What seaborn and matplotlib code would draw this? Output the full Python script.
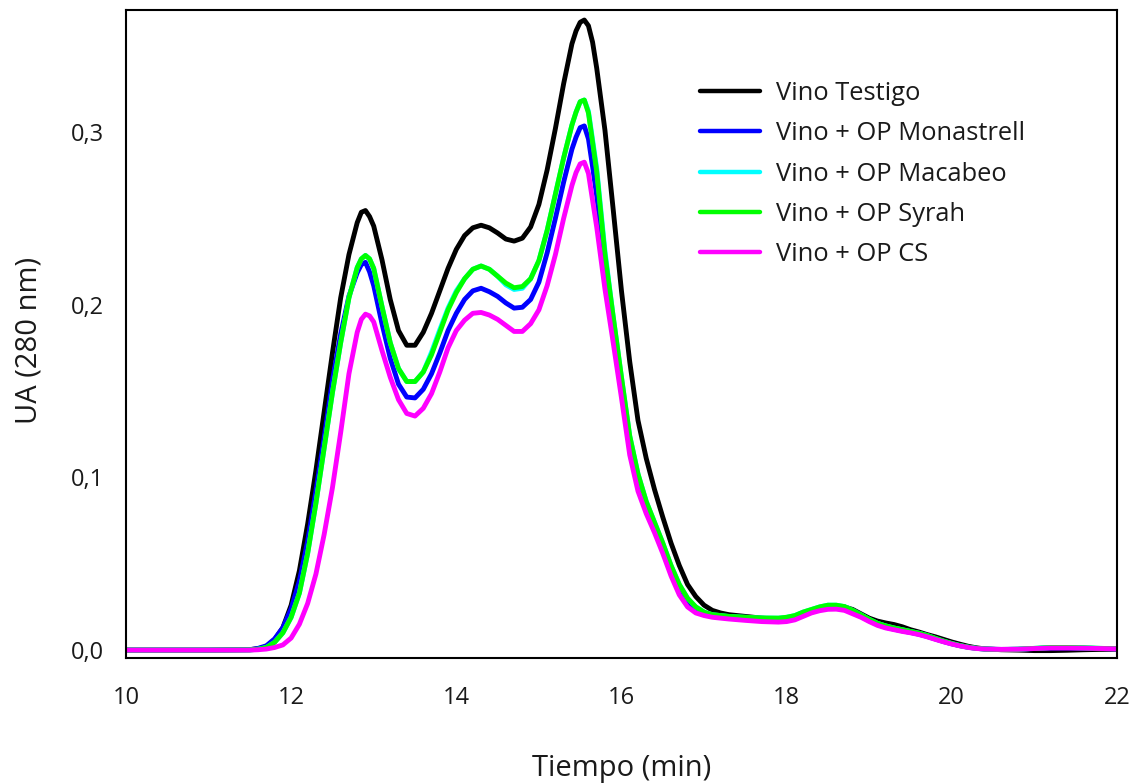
import numpy as np
import pandas as pd
import matplotlib
matplotlib.use("Agg")
import matplotlib.pyplot as plt
import seaborn as sns

# ---------------- data ----------------
tiempo = [10, 10.5, 11, 11.5,
          11.6, 11.7, 11.8, 11.9, 12.0, 12.1, 12.2, 12.3, 12.4, 12.5, 12.6, 12.7, 12.8,
          12.85, 12.9, 12.95, 13.0,
          13.1, 13.2, 13.3, 13.4, 13.5, 13.6, 13.7, 13.8, 13.9, 14.0,
          14.1, 14.2, 14.3, 14.4, 14.5, 14.6, 14.7, 14.8, 14.9, 15.0,
          15.1, 15.2, 15.3, 15.4,
          15.45, 15.5, 15.55, 15.6, 15.65,
          15.7, 15.8, 15.9, 16.0, 16.1, 16.2, 16.3, 16.4, 16.5, 16.6, 16.7, 16.8, 16.9, 17.0,
          17.1, 17.2, 17.3,
          17.5, 17.7, 17.9,
          18.0, 18.1, 18.2, 18.3, 18.4, 18.5, 18.6, 18.7, 18.8, 18.9, 19.0, 19.1, 19.2, 19.3, 19.4,
          19.5, 19.6, 19.7, 19.8, 19.9, 20.0, 20.1, 20.2, 20.3, 20.4,
          20.6, 20.8, 21.0, 21.2, 21.4, 21.6, 21.8, 22.0]

testigo = [0, 0, 0, 0.0003,
           0.0008, 0.002, 0.006, 0.013, 0.026, 0.046, 0.073, 0.104, 0.138, 0.172, 0.204, 0.229, 0.2475,
           0.2535, 0.2545, 0.251, 0.2455,
           0.226, 0.203, 0.185, 0.1765, 0.1765, 0.184, 0.195, 0.208, 0.221, 0.232,
           0.240, 0.2445, 0.246, 0.2445, 0.2415, 0.238, 0.2368, 0.2385, 0.245, 0.258,
           0.278, 0.302, 0.328, 0.351,
           0.3585, 0.3635, 0.3648, 0.3615, 0.352,
           0.337, 0.301, 0.255, 0.208, 0.167, 0.133, 0.111, 0.093, 0.077, 0.062, 0.049, 0.038, 0.031, 0.026,
           0.023, 0.0215, 0.0205,
           0.0195, 0.0185, 0.0178,
           0.018, 0.019, 0.0205, 0.022, 0.0235, 0.0245, 0.025, 0.025, 0.0235, 0.021, 0.0185, 0.0168, 0.0157, 0.0148, 0.0135,
           0.0118, 0.0105, 0.009, 0.0077, 0.0062, 0.0047, 0.0034, 0.0022, 0.0013, 0.0007,
           0.0002, 0.0, -0.0003, -0.0003, -0.0001, 0.0002, 0.0004, 0.0005]

monastrell = [0, 0, 0, 0.0002,
              0.001, 0.0025, 0.0065, 0.013, 0.024, 0.040, 0.063, 0.092, 0.123, 0.156, 0.183, 0.205, 0.2185,
              0.2232, 0.2245, 0.219, 0.211,
              0.189, 0.169, 0.154, 0.1465, 0.146, 0.151, 0.160, 0.172, 0.185, 0.195,
              0.203, 0.208, 0.2095, 0.2075, 0.2048, 0.201, 0.198, 0.1985, 0.203, 0.213,
              0.230, 0.250, 0.271, 0.290,
              0.297, 0.3025, 0.3035, 0.296, 0.280,
              0.263, 0.223, 0.189, 0.155, 0.120, 0.099, 0.084, 0.072, 0.060, 0.047, 0.036, 0.028, 0.0235, 0.0208,
              0.0195, 0.019, 0.0185,
              0.0178, 0.0172, 0.0168,
              0.0172, 0.0182, 0.020, 0.022, 0.0235, 0.0243, 0.0244, 0.0237, 0.0217, 0.0195, 0.017, 0.0148, 0.0132, 0.0121, 0.0111,
              0.0102, 0.0092, 0.0079, 0.0064, 0.0049, 0.0036, 0.0025, 0.0016, 0.001, 0.0006,
              0.0004, 0.0005, 0.0009, 0.0012, 0.0012, 0.0011, 0.0009, 0.0007]

macabeo = [0, 0, 0, 0.0001,
           0.0005, 0.0015, 0.0045, 0.010, 0.019, 0.033, 0.056, 0.085, 0.117, 0.149, 0.178, 0.204, 0.2215,
           0.2265, 0.2285, 0.2265, 0.221,
           0.199, 0.178, 0.163, 0.1555, 0.1555, 0.161, 0.1725, 0.1855, 0.198, 0.208,
           0.215, 0.2205, 0.2224, 0.2205, 0.2165, 0.2115, 0.2088, 0.2095, 0.215, 0.2255,
           0.243, 0.264, 0.285, 0.304,
           0.3115, 0.3175, 0.3185, 0.312, 0.2955,
           0.279, 0.231, 0.193, 0.158, 0.124, 0.102, 0.086, 0.074, 0.062, 0.049, 0.038, 0.030, 0.025, 0.022,
           0.0205, 0.020, 0.0195,
           0.019, 0.0186, 0.0185,
           0.019, 0.020, 0.022, 0.0235, 0.025, 0.026, 0.026, 0.0252, 0.023, 0.0205, 0.0178, 0.0155, 0.014, 0.0128, 0.0118,
           0.0108, 0.0098, 0.0085, 0.0068, 0.0052, 0.0038, 0.0026, 0.0017, 0.001, 0.0006,
           0.0003, 0.0005, 0.001, 0.0015, 0.0015, 0.0013, 0.001, 0.0008]

syrah = [0, 0, 0, 0.0001,
         0.0005, 0.0015, 0.0045, 0.010, 0.019, 0.033, 0.056, 0.085, 0.117, 0.149, 0.178, 0.204, 0.2215,
         0.2265, 0.2285, 0.2265, 0.221,
         0.199, 0.178, 0.163, 0.1555, 0.1555, 0.161, 0.171, 0.184, 0.197, 0.207,
         0.215, 0.2205, 0.2224, 0.2205, 0.2165, 0.2125, 0.2098, 0.2105, 0.215, 0.2255,
         0.243, 0.264, 0.285, 0.304,
         0.3115, 0.3175, 0.3185, 0.311, 0.294,
         0.277, 0.229, 0.193, 0.158, 0.124, 0.102, 0.086, 0.074, 0.062, 0.049, 0.038, 0.030, 0.025, 0.022,
         0.0205, 0.020, 0.0195,
         0.019, 0.0186, 0.0185,
         0.019, 0.020, 0.022, 0.0235, 0.025, 0.026, 0.026, 0.0252, 0.023, 0.0205, 0.0178, 0.0155, 0.014, 0.0128, 0.0118,
         0.0108, 0.0098, 0.0085, 0.0068, 0.0052, 0.0038, 0.0026, 0.0017, 0.001, 0.0006,
         0.0003, 0.0005, 0.001, 0.0015, 0.0015, 0.0013, 0.001, 0.0008]

cs = [0, 0, 0, 0,
      0.0002, 0.0006, 0.0015, 0.003, 0.007, 0.015, 0.027, 0.044, 0.067, 0.094, 0.126, 0.160, 0.184,
      0.1915, 0.1945, 0.1935, 0.190,
      0.1735, 0.158, 0.145, 0.137, 0.1355, 0.140, 0.1485, 0.161, 0.175, 0.185,
      0.191, 0.195, 0.1955, 0.194, 0.1915, 0.188, 0.1845, 0.1845, 0.189, 0.197,
      0.211, 0.229, 0.250, 0.269,
      0.2765, 0.2815, 0.2825, 0.276, 0.2605,
      0.245, 0.209, 0.178, 0.146, 0.113, 0.092, 0.079, 0.068, 0.056, 0.043, 0.032, 0.025, 0.0215, 0.020,
      0.019, 0.0185, 0.018,
      0.0172, 0.0165, 0.0162,
      0.0165, 0.0175, 0.0195, 0.0215, 0.0228, 0.0236, 0.0237, 0.023, 0.021, 0.019, 0.0165, 0.0143, 0.0128, 0.0118, 0.0108,
      0.010, 0.009, 0.0077, 0.0062, 0.0048, 0.0035, 0.0024, 0.0015, 0.0009, 0.0006,
      0.0004, 0.0005, 0.0009, 0.0012, 0.0012, 0.0011, 0.0009, 0.0007]

series_names = ["Vino Testigo", "Vino + OP Monastrell", "Vino + OP Macabeo",
                "Vino + OP Syrah", "Vino + OP CS"]
series_values = [testigo, monastrell, macabeo, syrah, cs]
series_colors = ["#000000", "#0000ff", "#00ffff", "#00ff00", "#ff00ff"]

x_ticks = [10, 12, 14, 16, 18, 20, 22]
x_tick_labels = ["10", "12", "14", "16", "18", "20", "22"]
y_ticks = [0.0, 0.1, 0.2, 0.3]
y_tick_labels = ["0,0", "0,1", "0,2", "0,3"]

# ---------------- build frame ----------------
frames = []
for name, vals in zip(series_names, series_values):
    assert len(vals) == len(tiempo), name
    frames.append(pd.DataFrame({"Tiempo": tiempo, "UA": vals, "Serie": name}))
df = pd.concat(frames, ignore_index=True)

sns.set_theme(style="white")
plt.rcParams["font.family"] = ["Open Sans", "DejaVu Sans"]
plt.rcParams["text.color"] = "#1a1a1a"

fig = plt.figure(figsize=(11.4, 7.83), dpi=100)
ax = fig.add_axes([0.1105, 0.1596, 0.9798 - 0.1105, 0.9872 - 0.1596])

sns.lineplot(data=df, x="Tiempo", y="UA", hue="Serie", hue_order=series_names,
             palette=dict(zip(series_names, series_colors)), linewidth=3.5,
             sort=False, estimator=None, ax=ax, legend=True)
for ln in ax.get_lines():
    ln.set_solid_joinstyle("round")
    ln.set_solid_capstyle("round")

ax.set_xlim(10, 22)
ax.set_ylim(-0.0046, 0.3706)
ax.set_xticks(x_ticks)
ax.set_xticklabels(x_tick_labels)
ax.set_yticks(y_ticks)
ax.set_yticklabels(y_tick_labels)

for s in ax.spines.values():
    s.set_visible(True)
    s.set_color("black")
    s.set_linewidth(1.5)

ax.tick_params(axis="both", which="major", direction="out", length=6, width=1.5,
               color="black", labelsize=17, labelcolor="#1a1a1a")
ax.tick_params(axis="x", pad=14)
ax.tick_params(axis="y", pad=10)

ax.set_xlabel("Tiempo (min)", fontsize=21, labelpad=32, color="#1a1a1a")
ax.set_ylabel("UA (280 nm)", fontsize=21, color="#1a1a1a")
ax.yaxis.set_label_coords(-0.083, 0.49)

handles, labels = ax.get_legend_handles_labels()
leg = ax.legend(handles=handles, labels=labels, loc="upper left",
                bbox_to_anchor=(700 / 1140, 1 - 81 / 783), bbox_transform=fig.transFigure,
                frameon=False, fontsize=18.4, handlelength=2.35, handletextpad=0.62,
                labelspacing=0.6, borderpad=0, borderaxespad=0)
for line in leg.get_lines():
    line.set_linewidth(3.2)

fig.savefig("out.png", dpi=100)
